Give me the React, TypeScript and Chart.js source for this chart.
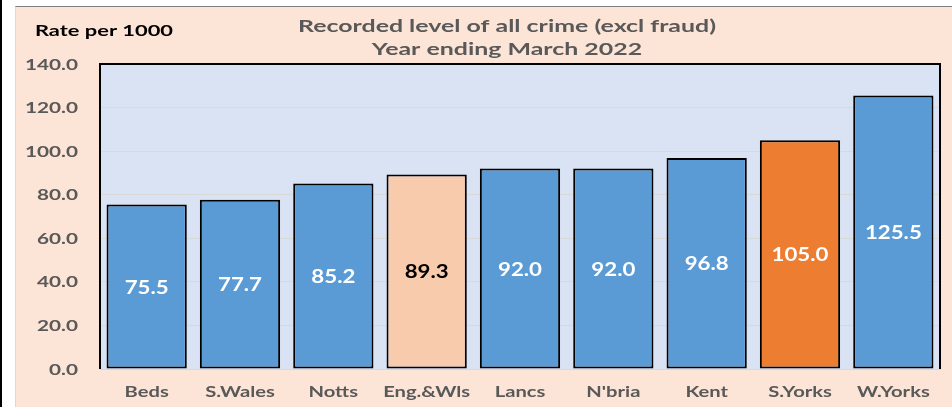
import React, { useEffect, useRef } from "react";
import { Chart, registerables } from "chart.js";

Chart.register(...registerables);

const categories = ["Beds", "S.Wales", "Notts", "Eng.&Wls", "Lancs", "N'bria", "Kent", "S.Yorks", "W.Yorks"];
const values = [75.5, 77.7, 85.2, 89.3, 92.0, 92.0, 96.8, 105.0, 125.5];
const barColors = ["#5B9BD5", "#5B9BD5", "#5B9BD5", "#F8CBAD", "#5B9BD5", "#5B9BD5", "#5B9BD5", "#ED7D31", "#5B9BD5"];
const labelColors = ["#FFFFFF", "#FFFFFF", "#FFFFFF", "#000000", "#FFFFFF", "#FFFFFF", "#FFFFFF", "#FFFFFF", "#FFFFFF"];
const titleLines = ["Recorded level of all crime (excl fraud)", "Year ending March 2022"];
const yAxisTitle = "Rate per 1000";

const FONT = "Lato, 'Open Sans', sans-serif";

function stretchFor(ctx: CanvasRenderingContext2D, font: string, sample: string, target: number) {
  ctx.font = font;
  const w = ctx.measureText(sample).width;
  return w > 0 ? target / w : 1;
}

function drawText(
  ctx: CanvasRenderingContext2D,
  text: string,
  x: number,
  y: number,
  align: CanvasTextAlign,
  sx: number
) {
  ctx.save();
  ctx.translate(x, y);
  ctx.scale(sx, 1);
  ctx.textAlign = align;
  ctx.textBaseline = "alphabetic";
  ctx.fillText(text, 0, 0);
  ctx.restore();
}

export default function App() {
  const ref = useRef<HTMLCanvasElement | null>(null);

  useEffect(() => {
    document.body.style.margin = "0";
    const canvas = ref.current;
    if (!canvas) return;

    const bgPlugin = {
      id: "bgPlugin",
      beforeDraw(chart: any) {
        const { ctx, chartArea } = chart;
        ctx.save();
        ctx.fillStyle = "#DAE3F3";
        ctx.fillRect(chartArea.left, chartArea.top, chartArea.right - chartArea.left, chartArea.bottom - chartArea.top);
        ctx.restore();
      },
      afterDraw(chart: any) {
        const { ctx, chartArea } = chart;
        ctx.save();
        ctx.strokeStyle = "#000000";
        ctx.lineWidth = 2;
        ctx.beginPath();
        ctx.moveTo(chartArea.left, chartArea.bottom);
        ctx.lineTo(chartArea.left, chartArea.top);
        ctx.lineTo(chartArea.right, chartArea.top);
        ctx.lineTo(chartArea.right, chartArea.bottom);
        ctx.stroke();

        // title
        const titleFont = `bold 17px ${FONT}`;
        const sxTitle = stretchFor(ctx, titleFont, titleLines[0], 418);
        ctx.font = titleFont;
        ctx.fillStyle = "#595959";
        drawText(ctx, titleLines[0], 491, 25, "center", sxTitle);
        drawText(ctx, titleLines[1], 491, 48, "center", sxTitle);

        // y-axis title
        const yTitleFont = `bold 15px ${FONT}`;
        const sxYT = stretchFor(ctx, yTitleFont, yAxisTitle, 138);
        ctx.font = yTitleFont;
        ctx.fillStyle = "#000000";
        drawText(ctx, yAxisTitle, 19, 29, "left", sxYT);

        // y tick labels
        const yScale = chart.scales.y;
        const yFont = `bold 15px ${FONT}`;
        const sxY = stretchFor(ctx, yFont, "140.0", 53);
        ctx.font = yFont;
        ctx.fillStyle = "#595959";
        yScale.ticks.forEach((t: any) => {
          const py = yScale.getPixelForValue(t.value);
          drawText(ctx, Number(t.value).toFixed(1), chartArea.left - 22, py + 5.5, "right", sxY);
        });

        // x tick labels
        const xScale = chart.scales.x;
        const xFont = `bold 15px ${FONT}`;
        const sxX = stretchFor(ctx, xFont, "Eng.&Wls", 87);
        ctx.font = xFont;
        ctx.fillStyle = "#595959";
        categories.forEach((c, i) => {
          drawText(ctx, c, xScale.getPixelForTick(i), chartArea.bottom + 28, "center", sxX);
        });

        // data labels
        const meta = chart.getDatasetMeta(0);
        const dFont = `bold 18px ${FONT}`;
        const sxD = stretchFor(ctx, dFont, "89.3", 44);
        ctx.font = dFont;
        meta.data.forEach((bar: any, i: number) => {
          const p = bar.getProps(["x", "y", "base"], true);
          ctx.fillStyle = labelColors[i];
          drawText(ctx, values[i].toFixed(1), p.x, (p.y + p.base) / 2 + 7, "center", sxD);
        });
        ctx.restore();
      },
    };

    const chart = new Chart(canvas, {
      type: "bar",
      data: {
        labels: categories,
        datasets: [
          {
            data: values,
            backgroundColor: barColors,
            borderColor: "#000000",
            borderWidth: 2,
            borderSkipped: false,
            categoryPercentage: 1,
            barPercentage: 0.86,
          },
        ],
      },
      options: {
        responsive: false,
        animation: false,
        layout: { padding: { top: 57, right: 12, left: 0, bottom: 0 } },
        plugins: {
          legend: { display: false },
          title: { display: false },
          tooltip: { enabled: false },
        },
        scales: {
          x: {
            grid: { display: false, drawTicks: false },
            border: { display: true, color: "#D9D9D9", width: 1 },
            ticks: { display: false },
            afterFit(scale: any) {
              scale.height = 38;
            },
          },
          y: {
            min: 0,
            max: 140,
            grid: { color: "#D9D9D9", lineWidth: 1, drawTicks: false },
            border: { display: false },
            ticks: { display: false, stepSize: 20 },
            afterFit(scale: any) {
              scale.width = 84;
            },
          },
        },
      },
      plugins: [bgPlugin],
    });

    return () => chart.destroy();
  }, []);

  return (
    <div style={{ position: "absolute", left: 0, top: 0, width: 952, height: 407, background: "#FFFFFF", overflow: "hidden" }}>
      <div style={{ position: "absolute", left: 0, top: 0, width: 2, height: 407, background: "#000000" }} />
      <div
        style={{
          position: "absolute",
          left: 15,
          top: 6,
          width: 937,
          height: 401,
          background: "#FCE4D6",
          borderTop: "1px solid #7F7F7F",
          borderLeft: "1px solid #D9D9D9",
          boxSizing: "border-box",
        }}
      />
      <canvas ref={ref} width={936} height={400} style={{ position: "absolute", left: 16, top: 7 }} />
    </div>
  );
}
